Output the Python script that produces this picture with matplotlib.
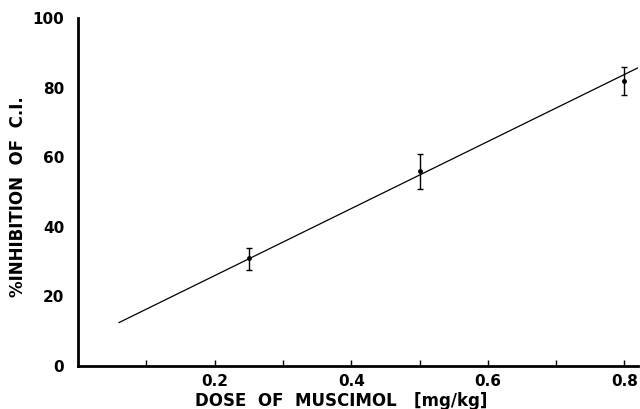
import matplotlib.pyplot as plt

# dose (mg/kg) and % inhibition
dose = [0.25, 0.50, 0.80]
inhibition = [31.0, 56.0, 82.0]
err_low = [3.5, 5.0, 4.0]
err_high = [3.0, 5.0, 4.0]

# regression line end points
fit_x = [0.06, 0.82]
fit_y = [12.5, 85.7]

x_ticks = [0.1, 0.2, 0.3, 0.4, 0.5, 0.6, 0.7, 0.8]
x_labels = ["", "0.2", "", "0.4", "", "0.6", "", "0.8"]
y_ticks = [0, 20, 40, 60, 80, 100]

plt.rcParams['font.family'] = 'DejaVu Sans'
plt.rcParams['font.weight'] = 'bold'

fig = plt.figure(figsize=(6.4, 4.09), dpi=100)
ax = fig.add_axes([0.122, 0.105, 0.875, 0.851])

ax.plot(fit_x, fit_y, color='black', linewidth=0.9)
ax.errorbar(dose, inhibition, yerr=[err_low, err_high], fmt='o', color='black',
            markersize=2.5, elinewidth=1.0, capsize=2.5, capthick=1.0)

ax.set_xlim(0, 0.82)
ax.set_ylim(0, 100)

ax.spines['top'].set_visible(False)
ax.spines['right'].set_visible(False)
ax.spines['left'].set_linewidth(2.0)
ax.spines['bottom'].set_linewidth(2.0)

ax.set_xticks(x_ticks)
ax.set_xticklabels(x_labels, fontsize=11, fontweight='bold')
ax.set_yticks(y_ticks)
ax.set_yticklabels([str(v) for v in y_ticks], fontsize=11, fontweight='bold')
ax.tick_params(axis='x', direction='in', length=4, width=1.0, pad=6)
ax.tick_params(axis='y', length=0, pad=10)

ax.set_xlabel("DOSE  OF  MUSCIMOL   [mg/kg]", fontsize=12, fontweight='bold')
ax.xaxis.set_label_coords(0.47, -0.075, transform=ax.transAxes)
ax.set_ylabel("%INHIBITION  OF  C.I.", fontsize=12, fontweight='bold')
ax.yaxis.set_label_coords(-0.092, 0.486, transform=ax.transAxes)

fig.savefig("out.png", dpi=100)
